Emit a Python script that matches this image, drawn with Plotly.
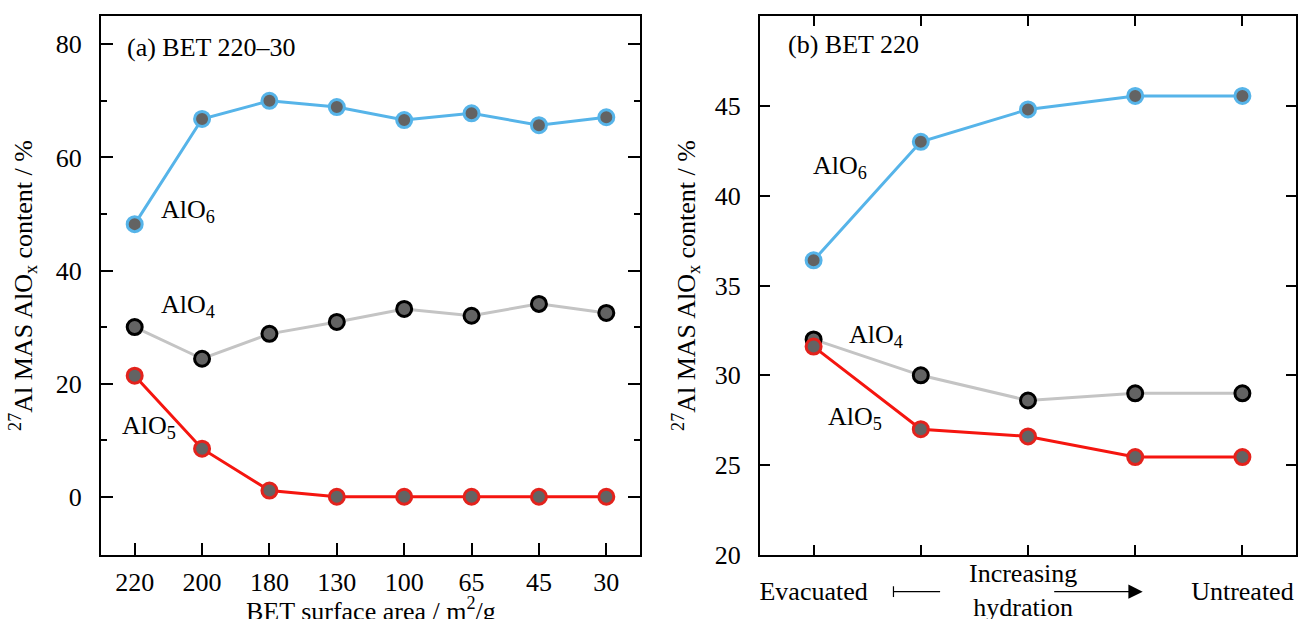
import plotly.graph_objects as go

# ---------------- data ----------------
bet_labels = ["220", "200", "180", "130", "100", "65", "45", "30"]
a_alo6 = [48.2, 66.8, 70.0, 68.9, 66.6, 67.8, 65.7, 67.1]
a_alo4 = [30.0, 24.4, 28.8, 30.9, 33.2, 32.0, 34.1, 32.5]
a_alo5 = [21.4, 8.5, 1.1, 0.0, 0.0, 0.0, 0.0, 0.0]

stage_labels = ["Evacuated", "", "", "", "Untreated"]
b_alo6 = [36.4, 43.0, 44.8, 45.55, 45.55]
b_alo4 = [32.0, 30.0, 28.6, 29.0, 29.0]
b_alo5 = [31.6, 27.0, 26.6, 25.45, 25.45]

FONT = "Liberation Serif"
FS = 26
BLUE = "#56b4e9"
GRAY = "#c4c4c4"
RED = "#f5150f"
FILL = "#636363"

series = [
    ("AlO6", BLUE, BLUE, a_alo6, b_alo6),
    ("AlO4", GRAY, "#000000", a_alo4, b_alo4),
    ("AlO5", RED, "#e3221c", a_alo5, b_alo5),
]

fig = go.Figure()
b_x = list(range(len(stage_labels)))
for name, lc, mc, ya, yb in series:
    fig.add_trace(go.Scatter(
        x=bet_labels, y=ya, mode="lines+markers", name=name,
        line=dict(color=lc, width=3),
        marker=dict(size=15, color=FILL, line=dict(color=mc, width=3)),
        xaxis="x", yaxis="y", showlegend=False))
    fig.add_trace(go.Scatter(
        x=b_x, y=yb, mode="lines+markers", name=name,
        line=dict(color=lc, width=3),
        marker=dict(size=15, color=FILL, line=dict(color=mc, width=3)),
        xaxis="x2", yaxis="y2", showlegend=False))

axis_common = dict(showgrid=False, zeroline=False, showline=True,
                   linecolor="black", linewidth=2, ticks="inside",
                   tickcolor="black", tickwidth=1.5, automargin=False,
                   tickfont=dict(family=FONT, size=FS, color="black"))

ytitle = "<sup>27</sup>Al MAS AlO<sub>x</sub> content / %"

fig.update_layout(
    width=1298, height=619,
    margin=dict(l=0, r=0, t=16, b=64),
    paper_bgcolor="white", plot_bgcolor="white",
    font=dict(family=FONT, size=FS, color="black"),
    xaxis=dict(axis_common, domain=[101/1298, 640/1298], type="category",
               range=[-0.5, 7.5], mirror=True, ticklen=12,
               ticklabelstandoff=3, anchor="y"),
    yaxis=dict(axis_common, domain=[0, 1], range=[-10.3, 85],
               tickvals=[0, 20, 40, 60, 80], mirror="ticks", ticklen=12,
               ticklabelstandoff=12,
               minor=dict(tickvals=[10, 30, 50, 70], ticklen=6,
                          ticks="inside", tickcolor="black", tickwidth=1.5),
               title=dict(text=ytitle, font=dict(family=FONT, size=FS),
                          standoff=16),
               anchor="x"),
    xaxis2=dict(axis_common, domain=[760/1298, 1296/1298],
                range=[-0.5, 4.5], tickvals=b_x, ticktext=stage_labels,
                mirror="ticks", ticklen=10, ticklabelstandoff=12,
                anchor="y2"),
    yaxis2=dict(axis_common, domain=[0, 1], range=[20, 50],
                tickvals=[20, 25, 30, 35, 40, 45], mirror="ticks",
                ticklen=10, ticklabelstandoff=12,
                title=dict(text=ytitle, font=dict(family=FONT, size=FS),
                           standoff=12),
                anchor="x2"),
)

def note(text, x, y, xref, yref, xanchor="left", yanchor="middle"):
    fig.add_annotation(text=text, x=x, y=y, xref=xref, yref=yref,
                       showarrow=False, xanchor=xanchor, yanchor=yanchor,
                       font=dict(family=FONT, size=FS, color="black"))

# x-axis title of panel (a), partly below the page edge as in the source
note("BET surface area / m<sup>2</sup>/g", 0.5, -0.066, "x domain", "paper",
     xanchor="center", yanchor="top")

# panel (a) labels
note("(a) BET 220–30", -0.14, 79.5, "x", "y")
note("AlO<sub>6</sub>", 0.36, 50.5, "x", "y")
note("AlO<sub>4</sub>", 0.36, 33.8, "x", "y")
note("AlO<sub>5</sub>", -0.22, 12.3, "x", "y")

# panel (b) labels
note("(b) BET 220", -0.26, 48.4, "x2", "y2")
note("AlO<sub>6</sub>", -0.02, 41.6, "x2", "y2")
note("AlO<sub>4</sub>", 0.31, 32.2, "x2", "y2")
note("AlO<sub>5</sub>", 0.12, 27.6, "x2", "y2")

# hydration label and arrow under panel (b)
fig.add_annotation(text="Increasing<br>hydration", x=1.95, y=-0.066,
                   xref="x2", yref="paper", showarrow=False,
                   xanchor="center", yanchor="middle",
                   font=dict(family=FONT, size=FS, color="black"))
fig.add_shape(type="line", x0=0.745, x1=1.18, y0=-0.068, y1=-0.068,
              xref="x2", yref="paper", line=dict(color="black", width=1.2))
fig.add_shape(type="line", x0=0.745, x1=0.745, y0=-0.058, y1=-0.078,
              xref="x2", yref="paper", line=dict(color="black", width=1.2))
fig.add_annotation(text="", x=3.07, y=-0.068, xref="x2", yref="paper",
                   ax=-90, ay=0, axref="pixel", ayref="pixel",
                   showarrow=True, arrowhead=2, arrowsize=2.2,
                   arrowwidth=1.3, arrowcolor="black")

fig.write_html("out.html")
